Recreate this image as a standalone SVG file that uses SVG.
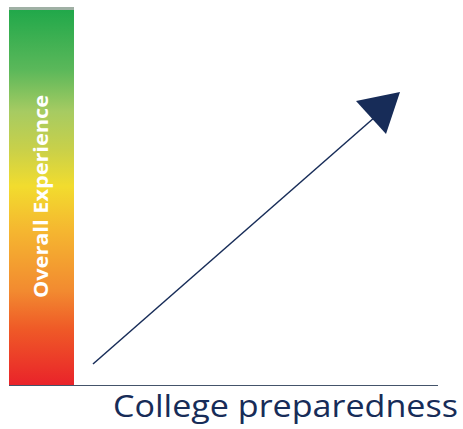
<svg xmlns="http://www.w3.org/2000/svg" width="463" height="429" viewBox="0 0 463 429">
  <defs>
    <linearGradient id="experienceScale" x1="0" y1="0" x2="0" y2="1">
      <stop offset="0" stop-color="#21a84a"/>
      <stop offset="0.16" stop-color="#5bb85a"/>
      <stop offset="0.27" stop-color="#a6cb62"/>
      <stop offset="0.37" stop-color="#c8d04a"/>
      <stop offset="0.47" stop-color="#f2dc2e"/>
      <stop offset="0.59" stop-color="#f5b630"/>
      <stop offset="0.75" stop-color="#f28a30"/>
      <stop offset="0.85" stop-color="#ef5a27"/>
      <stop offset="1" stop-color="#e9232a"/>
    </linearGradient>
  </defs>
  <style>
    .axis { stroke: #44546a; stroke-width: 1.2; fill: none; }
    .trend { stroke: #172c58; stroke-width: 1.5; fill: none; }
    .head { fill: #172c58; }
    .ylabel { font-family: "Open Sans", "Liberation Sans", sans-serif; font-weight: bold; font-size: 20px; fill: #ffffff; }
    .xlabel { font-family: "Open Sans", "Liberation Sans", sans-serif; font-size: 31px; fill: #172c58; }
  </style>

  <g id="y-axis-bar">
    <rect x="9" y="7" width="65" height="4" fill="#9fb0a4"/>
    <rect x="9" y="10" width="65" height="375" fill="url(#experienceScale)"/>
    <text class="ylabel" transform="translate(48 196.5) rotate(-90)" text-anchor="middle" textLength="203" lengthAdjust="spacingAndGlyphs">Overall Experience</text>
  </g>

  <g id="connectors">
    <line class="axis" x1="9" y1="385.5" x2="438" y2="385.5"/>
    <line class="trend" x1="93" y1="364" x2="375" y2="117"/>
    <polygon class="head" points="356,101 400,92 386,134"/>
  </g>

  <g id="x-axis-label">
    <text class="xlabel" x="113" y="417" textLength="345" lengthAdjust="spacingAndGlyphs">College preparedness</text>
  </g>
</svg>
